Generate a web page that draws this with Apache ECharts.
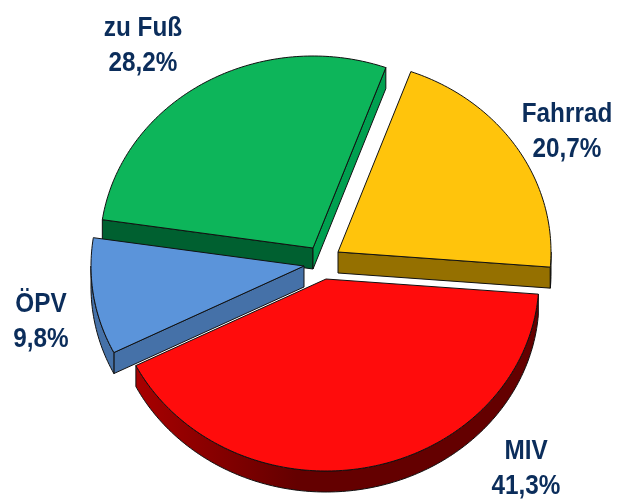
<!DOCTYPE html>
<html>
<head>
<meta charset="utf-8">
<style>html,body{margin:0;padding:0;background:#fff}#main{width:626px;height:499px}</style>
<script src="https://cdn.jsdelivr.net/npm/echarts@6/dist/echarts.min.js"></script>
</head>
<body>
<div id="main"></div>
<script>
// Werte aus dem Bild
var categories = ["Fahrrad", "MIV", "ÖPV", "zu Fuß"];
var shares = [20.7, 41.3, 9.8, 28.2];
var shareLabels = ["20,7%", "41,3%", "9,8%", "28,2%"];

// Aussehen
var topColors = ["#FFC40C", "#FF0C0C", "#5B94DA", "#0DB55A"];
var startWall = ["#957000", "#640000", "#4571A8", "#006030"];
var endWall = ["#957000", "#640000", "#4571A8", "#00A050"];
var arcWall = ["#957000", "#640000", "#4571A8", "#006030"];
var arcWallLeft = ["#957000", "#A80000", "#4571A8", "#006030"];
var apexX = [338, 326, 304, 313];
var apexY = [252, 279, 266, 248];
var labelX = [567, 526, 41, 143];
var labelY = [132, 469, 322, 46];
var layer = [1, 2, 3, 0];
var startAngle = 20;
var rx = 213, ry = 192, depth = 21;

var total = shares.reduce(function(a, b) { return a + b; }, 0);

function rim(i, deg) {
    var r = deg * Math.PI / 180;
    return [apexX[i] + rx * Math.sin(r), apexY[i] - ry * Math.cos(r)];
}

function down(p) {
    return [p[0], p[1] + depth];
}

function wall(a, b, color, z) {
    return {
        type: "polygon",
        z2: z,
        shape: { points: [a, b, down(b), down(a)] },
        style: { fill: color, stroke: "#111", lineWidth: 1 }
    };
}

function renderSlice(params, api) {
    var i = params.dataIndex;
    var before = 0;
    for (var k = 0; k < i; k++) {
        before += shares[k];
    }
    var a0 = startAngle + before / total * 360;
    var a1 = a0 + api.value(0) / total * 360;
    var apex = [apexX[i], apexY[i]];
    var z = layer[i] * 10;
    var children = [];

    var arc = [];
    for (var d = a0; d < a1; d += 1) {
        arc.push(rim(i, d));
    }
    arc.push(rim(i, a1));

    // Seitenwaende, nur die sichtbaren
    var mid = rim(i, (a0 + a1) / 2);
    [[a0, startWall[i]], [a1, endWall[i]]].forEach(function(e) {
        var p = rim(i, e[0]);
        var dx = p[0] - apex[0], dy = p[1] - apex[1];
        var nx = -dy, ny = dx;
        if (nx * (mid[0] - apex[0]) + ny * (mid[1] - apex[1]) > 0) {
            nx = -nx;
            ny = -ny;
        }
        if (ny > 0) {
            children.push(wall(apex, p, e[1], z));
        }
    });

    var lo = Math.max(a0, 90), hi = Math.min(a1, 270);
    if (hi > lo) {
        var upper = [], lower = [];
        for (var t = lo; t < hi; t += 1) {
            upper.push(rim(i, t));
        }
        upper.push(rim(i, hi));
        lower = upper.map(down).reverse();
        children.push({
            type: "polygon",
            z2: z,
            shape: { points: upper.concat(lower) },
            style: {
                fill: new echarts.graphic.LinearGradient(0, 0, 1, 0, [
                    { offset: 0, color: arcWallLeft[i] },
                    { offset: 0.4, color: arcWall[i] },
                    { offset: 1, color: arcWall[i] }
                ]),
                stroke: "#111",
                lineWidth: 1
            }
        });
    }

    children.push({
        type: "polygon",
        z2: z + 1,
        shape: { points: [apex].concat(arc) },
        style: { fill: topColors[i], stroke: "#111", lineWidth: 1 }
    });

    children.push({
        type: "text",
        z2: 50,
        x: labelX[i],
        y: labelY[i],
        scaleX: 0.9,
        style: {
            text: categories[i] + "\n" + shareLabels[i],
            fill: "#0B2D5B",
            fontFamily: "Liberation Sans",
            fontWeight: "bold",
            fontSize: 27,
            lineHeight: 35,
            align: "center",
            verticalAlign: "middle"
        }
    });

    return { type: "group", children: children };
}

var chart = echarts.init(document.getElementById("main"));
chart.setOption({
    animation: false,
    backgroundColor: "#fff",
    series: [{
        type: "custom",
        coordinateSystem: "none",
        clip: false,
        renderItem: renderSlice,
        data: shares.map(function(v, i) { return { name: categories[i], value: [v] }; })
    }]
});
</script>
</body>
</html>
